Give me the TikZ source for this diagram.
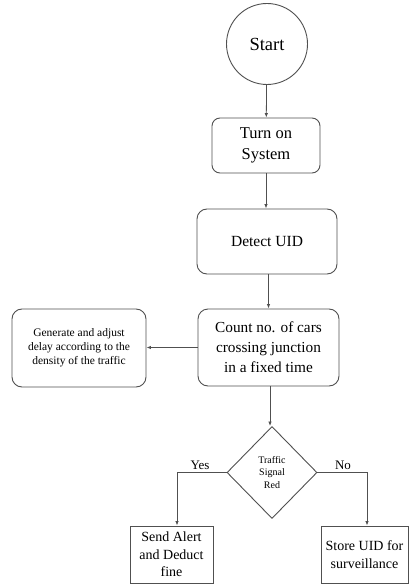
\documentclass[tikz,border=0pt]{standalone}
\usepackage{fontspec}
\setmainfont{Liberation Serif}
\usetikzlibrary{shapes.geometric,arrows.meta,calc}
\definecolor{edge}{HTML}{505050}
\begin{document}
\begin{tikzpicture}[x=1pt,y=-1pt,
  rbox/.style={draw=edge,line width=0.9pt,rounded corners=8pt,align=center,inner sep=0pt},
  sbox/.style={draw=edge,line width=0.9pt,align=center,inner sep=0pt},
  arr/.style={draw=edge,line width=0.8pt,-{Latex[length=4.5pt,width=3.5pt]}},
  lab/.style={font=\fontsize{13}{14}\selectfont}]
\fill[white] (0,0) rectangle (409,585);
\useasboundingbox (0,0) rectangle (409,585);
\node[draw=edge,line width=0.9pt,circle,minimum size=81pt,inner sep=0pt,font=\fontsize{18.5}{20}\selectfont] (start) at (267,44) {Start};
\node[rbox,minimum width=108pt,minimum height=55pt,font=\fontsize{16.5}{21}\selectfont] (turn) at (266,145.5) {Turn on\\System};
\node[rbox,minimum width=140pt,minimum height=65pt,font=\fontsize{15.5}{17}\selectfont,rounded corners=10pt] (detect) at (267,241.5) {Detect UID};
\node[rbox,minimum width=141pt,minimum height=77pt,font=\fontsize{15.3}{20}\selectfont,rounded corners=10pt] (count) at (268.5,347.5) {Count no. of cars\\crossing junction\\in a fixed time};
\node[rbox,minimum width=134pt,minimum height=78pt,font=\fontsize{11.5}{14}\selectfont,rounded corners=10pt] (gen) at (79,348) {Generate and adjust\\delay according to the\\density of the traffic};
\node[draw=edge,line width=0.9pt,diamond,minimum width=90pt,minimum height=92pt,inner sep=0pt,align=center,font=\fontsize{10}{12.5}\selectfont] (dia) at (272,472.5) {Traffic\\Signal\\Red};
\node[sbox,minimum width=83pt,minimum height=57pt,font=\fontsize{14}{17.5}\selectfont] (send) at (171.5,554.5) {Send Alert\\and Deduct\\fine};
\node[sbox,minimum width=87pt,minimum height=57pt,font=\fontsize{14}{18}\selectfont] (store) at (364.5,554.5) {Store UID for\\surveillance};
\draw[arr] (start) -- (turn);
\draw[arr] (turn) -- (turn|-detect.north);
\draw[arr] (detect.south-|count) -- (count);
\draw[arr] (count.west) -- (gen.east|-count.west);
\draw[arr] ([xshift=1.5pt]count.south) -- ([xshift=1.5pt]count.south|-dia.north);
\draw[arr] (dia.west) -| ([xshift=5.5pt]send.north);
\draw[arr] (dia.east) -| ([xshift=2.5pt]store.north);
\node[lab,anchor=south] (yes) at (200,473) {Yes};
\node[lab,anchor=south] (no) at (343,473) {No};
\end{tikzpicture}
\end{document}
